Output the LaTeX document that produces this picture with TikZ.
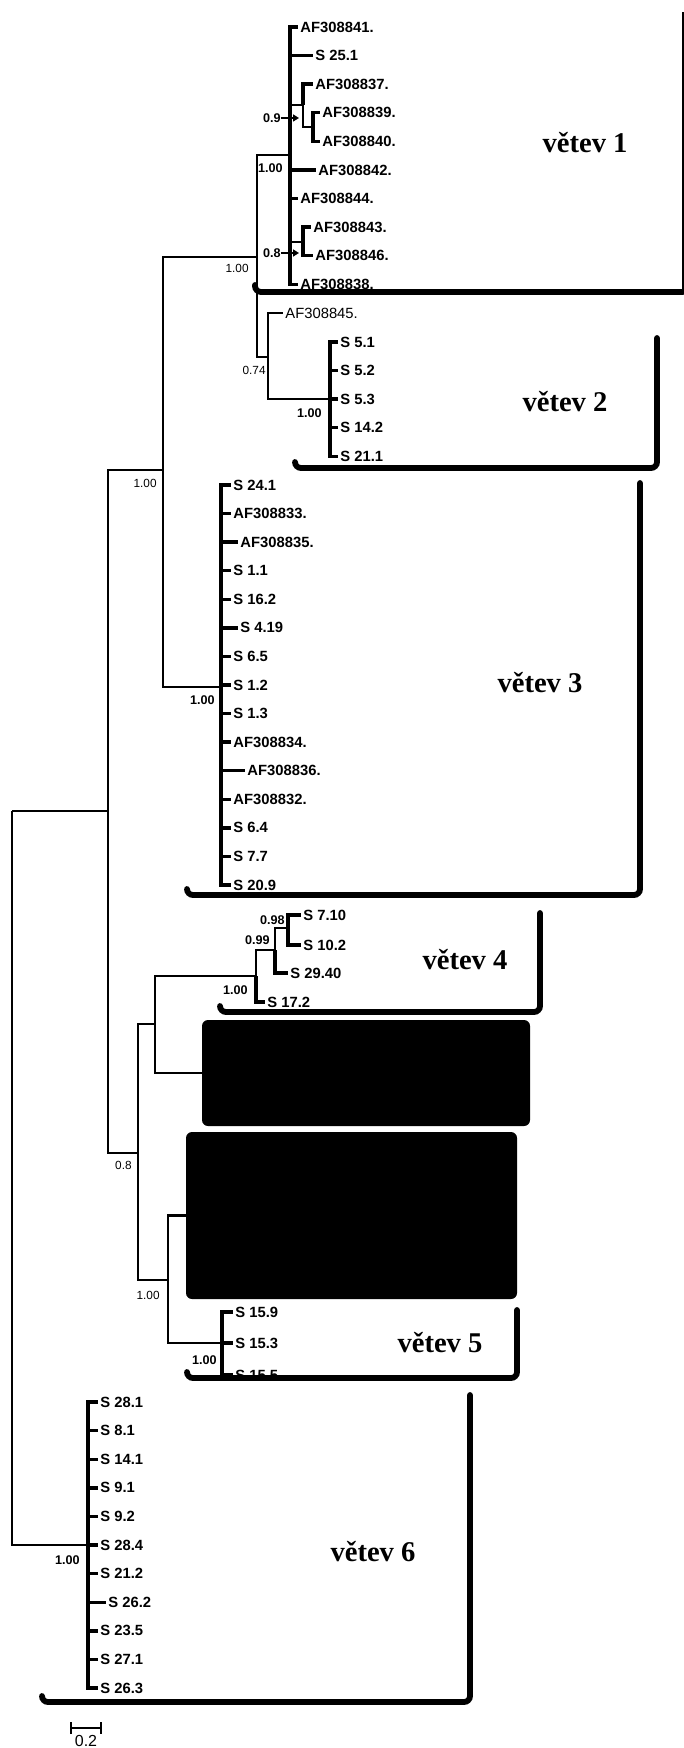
\documentclass[tikz,border=0pt]{standalone}
\usepackage{fontspec}
\setmainfont{Liberation Serif}
\setsansfont{Liberation Sans}
\usetikzlibrary{arrows.meta}
\tikzset{
    br/.style={line width=1.4pt},
    lf/.style={line width=1.7pt},
    leaf/.style={anchor=west, inner sep=1pt, font=\sffamily\bfseries\fontsize{7.4}{8}\selectfont},
    leafr/.style={leaf, font=\sffamily\fontsize{7.4}{8}\selectfont},
    supp/.style={anchor=east, inner sep=0pt, font=\sffamily\fontsize{5.9}{7}\selectfont},
    suppb/.style={supp, font=\sffamily\bfseries\fontsize{6.3}{7}\selectfont},
    pnt/.style={-{Triangle[length=3pt, width=3.5pt]}, line width=1pt},
    brk/.style={line width=2.9pt, rounded corners=3pt, line cap=round},
    vname/.style={font=\bfseries\fontsize{14.3}{16}\selectfont},
    hid/.style={fill=black, rounded corners=3pt, inner sep=0pt},
}

\begin{document}
\begin{tikzpicture}[x=0.5pt, y=-0.5pt]
\useasboundingbox (0,0) rectangle (684,1748);

% inner nodes of the tree
\coordinate (r)   at (12,811);
\coordinate (nA)  at (108,811);
\coordinate (nB)  at (163,470);
\coordinate (nC)  at (257,257);
\coordinate (nD)  at (268,357);
\coordinate (n1)  at (290,155);
\coordinate (n1a) at (303,105);
\coordinate (n1b) at (313,127);
\coordinate (n1c) at (303,242);
\coordinate (n2)  at (330,399);
\coordinate (n3)  at (221,687);
\coordinate (nX)  at (138,1153);
\coordinate (nY)  at (155,1024);
\coordinate (n4)  at (256,976);
\coordinate (n4a) at (275,950);
\coordinate (n4b) at (288,928);
\coordinate (nZ)  at (168,1280);
\coordinate (n5)  at (222,1343);
\coordinate (n6)  at (88,1545);

\foreach \pa/\ch in {r/nA, r/n6, nA/nB, nA/nX, nB/nC, nB/n3, nC/n1, nC/nD,
    nD/n2, n1/n1a, n1a/n1b, n1/n1c, nX/nY, nX/nZ, nY/n4, n4/n4a, n4a/n4b, nZ/n5}
    \draw[br] (\pa) |- (\ch);

% větev 1
\foreach \i/\pa/\nm/\xe/\yy in {1/n1/AF308841./298/27, 2/n1/S 25.1/313/55.6,
    3/n1a/AF308837./313/84.2, 4/n1b/AF308839./320/112.8, 5/n1b/AF308840./320/141.4,
    6/n1/AF308842./316/170, 7/n1/AF308844./298/198.6, 8/n1c/AF308843./311/227.2,
    9/n1c/AF308846./313/255.8, 10/n1/AF308838./298/284.4}{%
    \node[leaf] (c1-\i) at (\xe,\yy) {\nm};
    \draw[lf] (\pa) |- (c1-\i.west);
}

% větev 2
\node[leafr] (c2-0) at (283,313) {AF308845.};
\draw[br] (nD) |- (c2-0.west);
\foreach \i/\nm in {1/S 5.1, 2/S 5.2, 3/S 5.3, 4/S 14.2, 5/S 21.1}{%
    \node[leaf] (c2-\i) at (338,{342+(\i-1)*28.6}) {\nm};
    \draw[lf] (n2) |- (c2-\i.west);
}

% větev 3
\foreach \i/\nm/\xe in {1/S 24.1/231, 2/AF308833./231, 3/AF308835./238, 4/S 1.1/231,
    5/S 16.2/231, 6/S 4.19/238, 7/S 6.5/231, 8/S 1.2/231, 9/S 1.3/231,
    10/AF308834./231, 11/AF308836./245, 12/AF308832./231, 13/S 6.4/231,
    14/S 7.7/231, 15/S 20.9/231}{%
    \node[leaf] (c3-\i) at (\xe,{485+(\i-1)*28.57}) {\nm};
    \draw[lf] (n3) |- (c3-\i.west);
}

% větev 4
\foreach \i/\pa/\nm/\xe/\yy in {1/n4b/S 7.10/301/915, 2/n4b/S 10.2/301/945,
    3/n4a/S 29.40/288/973, 4/n4/S 17.2/265/1002}{%
    \node[leaf] (c4-\i) at (\xe,\yy) {\nm};
    \draw[lf] (\pa) |- (c4-\i.west);
}

\node[hid, minimum width=164pt, minimum height=53pt] (hidA) at (366,1073) {};
\node[hid, minimum width=165.5pt, minimum height=83.5pt] (hidB) at (351.5,1215.5) {};
\draw[br] (nY) |- (hidA.west);
\draw[br] (nZ) |- (hidB.west);

% větev 5
\foreach \i/\nm/\yy in {1/S 15.9/1312, 2/S 15.3/1343, 3/S 15.5/1375}{%
    \node[leaf] (c5-\i) at (233,\yy) {\nm};
    \draw[lf] (n5) |- (c5-\i.west);
}

% větev 6
\foreach \i/\nm/\xe in {1/S 28.1/98, 2/S 8.1/98, 3/S 14.1/98, 4/S 9.1/98, 5/S 9.2/98,
    6/S 28.4/98, 7/S 21.2/98, 8/S 26.2/106, 9/S 23.5/98, 10/S 27.1/98, 11/S 26.3/98}{%
    \node[leaf] (c6-\i) at (\xe,{1402+(\i-1)*28.6}) {\nm};
    \draw[lf] (n6) |- (c6-\i.west);
}

% support values
\node[supp]  (s-nB)  at (157,483)  {1.00};
\node[supp]  (s-nC)  at (249,268)  {1.00};
\node[suppb] (s-n1)  at (283,168)  {1.00};
\node[supp]  (s-nD)  at (266,370)  {0.74};
\node[suppb] (s-n2)  at (322,413)  {1.00};
\node[suppb] (s-n3)  at (215,700)  {1.00};
\node[suppb] (s-n4b) at (285,920)  {0.98};
\node[suppb] (s-n4a) at (270,940)  {0.99};
\node[suppb] (s-n4)  at (248,990)  {1.00};
\node[supp]  (s-nX)  at (132,1165) {0.8};
\node[supp]  (s-nZ)  at (160,1295) {1.00};
\node[suppb] (s-n5)  at (217,1360) {1.00};
\node[suppb] (s-n6)  at (80,1560)  {1.00};
\node[suppb] (s-n1a) at (281,118)  {0.9};
\node[suppb] (s-n1c) at (281,253)  {0.8};
\coordinate (t1a) at (299,118);
\coordinate (t1c) at (299,253);
\draw[pnt] (s-n1a) -- (t1a);
\draw[pnt] (s-n1c) -- (t1c);

% brackets
\draw[brk] (255,285) |- (683,292);
\draw[line width=0.9pt] (683,292) -- (683,12);
\draw[brk] (295,462) |- (657,468) -- (657,338);
\draw[brk] (187,889) |- (640,895) -- (640,483);
\draw[brk] (220,1006) |- (540,1012) -- (540,913);
\draw[brk] (187,1372) |- (517,1378) -- (517,1310);
\draw[brk] (42,1696) |- (470,1702) -- (470,1395);

\node[vname] (v1) at (585,143)  {větev 1};
\node[vname] (v2) at (565,402)  {větev 2};
\node[vname] (v3) at (540,683)  {větev 3};
\node[vname] (v4) at (465,960)  {větev 4};
\node[vname] (v5) at (440,1343) {větev 5};
\node[vname] (v6) at (373,1552) {větev 6};

% scale
\coordinate (sb0) at (70,1728);
\coordinate (sb1) at (102,1728);
\draw[{Bar[width=6pt]}-{Bar[width=6pt]}, line width=1.2pt] (sb0) -- (sb1);
\node[font=\sffamily\fontsize{8}{9}\selectfont, inner sep=0pt] (sbl) at (86,1741) {0.2};

\end{tikzpicture}
\end{document}
